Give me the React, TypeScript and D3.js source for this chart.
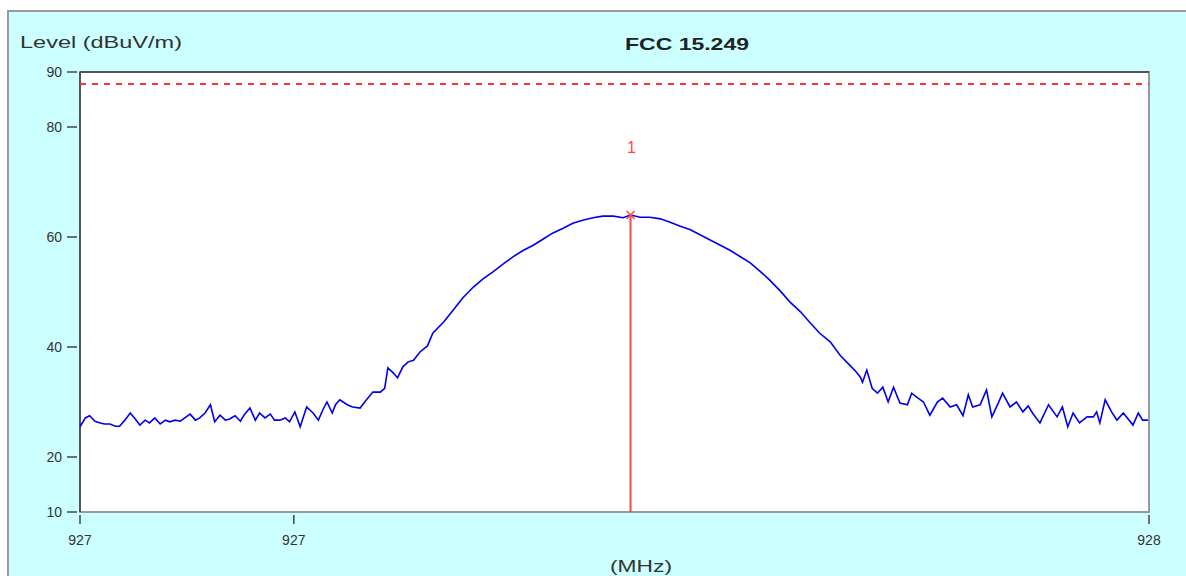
import React from "react";
import * as d3 from "d3";

// trace readings: frequency (MHz) and level (dBuV/m)
const freqs = [
  927.0, 927.005, 927.009, 927.014, 927.019, 927.023, 927.028, 927.033, 927.037, 927.042,
  927.047, 927.051, 927.056, 927.061, 927.065, 927.07, 927.075, 927.08, 927.084, 927.089,
  927.094, 927.098, 927.103, 927.108, 927.112, 927.117, 927.122, 927.126, 927.131, 927.136,
  927.14, 927.145, 927.15, 927.154, 927.159, 927.164, 927.168, 927.173, 927.178, 927.182,
  927.187, 927.192, 927.196, 927.201, 927.206, 927.212, 927.218, 927.223, 927.227, 927.231,
  927.236, 927.239, 927.243, 927.25, 927.255, 927.262, 927.268, 927.274, 927.281, 927.285,
  927.288, 927.293, 927.297, 927.302, 927.307, 927.312, 927.318, 927.325, 927.33, 927.34,
  927.349, 927.358, 927.368, 927.377, 927.386, 927.396, 927.405, 927.414, 927.424, 927.433,
  927.442, 927.452, 927.461, 927.471, 927.48, 927.489, 927.499, 927.508, 927.515, 927.524,
  927.533, 927.543, 927.552, 927.561, 927.571, 927.58, 927.589, 927.599, 927.608, 927.617,
  927.627, 927.636, 927.645, 927.655, 927.664, 927.674, 927.683, 927.692, 927.702, 927.711,
  927.72, 927.726, 927.73, 927.732, 927.736, 927.741, 927.746, 927.751, 927.756, 927.761,
  927.767, 927.774, 927.778, 927.784, 927.789, 927.795, 927.802, 927.807, 927.814, 927.82,
  927.826, 927.831, 927.835, 927.842, 927.848, 927.853, 927.859, 927.863, 927.87, 927.876,
  927.882, 927.887, 927.891, 927.898, 927.906, 927.914, 927.919, 927.924, 927.929, 927.935,
  927.942, 927.948, 927.951, 927.954, 927.959, 927.965, 927.97, 927.976, 927.985, 927.99,
  927.994, 927.999,
];
const levels = [
  25.5, 27.1, 27.5, 26.5, 26.2, 26.0, 26.0, 25.6, 25.6, 26.7,
  28.0, 27.1, 25.8, 26.7, 26.2, 27.1, 26.0, 26.7, 26.4, 26.7,
  26.5, 27.1, 27.8, 26.7, 27.1, 28.0, 29.5, 26.4, 27.6, 26.7,
  26.9, 27.5, 26.5, 27.8, 28.9, 26.7, 28.0, 27.1, 27.8, 26.7,
  26.7, 27.1, 26.4, 28.2, 25.5, 29.1, 28.0, 26.7, 28.5, 30.0,
  28.0, 29.5, 30.4, 29.5, 29.1, 28.9, 30.4, 31.8, 31.8, 32.5,
  36.2, 35.3, 34.4, 36.4, 37.3, 37.6, 39.1, 40.2, 42.5, 44.5,
  46.7, 48.9, 50.9, 52.4, 53.6, 55.1, 56.4, 57.5, 58.5, 59.6,
  60.7, 61.6, 62.5, 63.1, 63.5, 63.8, 63.8, 63.5, 64.0, 63.6,
  63.6, 63.3, 62.7, 62.0, 61.3, 60.4, 59.5, 58.5, 57.6, 56.5,
  55.3, 53.8, 52.2, 50.2, 48.2, 46.4, 44.4, 42.5, 40.9, 38.5,
  36.7, 35.5, 34.5, 33.6, 35.8, 32.5, 31.6, 32.7, 30.0, 32.7,
  29.8, 29.5, 31.6, 30.7, 30.0, 27.6, 30.0, 30.7, 29.1, 29.5,
  27.5, 31.3, 29.1, 29.5, 32.2, 27.3, 29.8, 31.6, 29.1, 30.0,
  28.2, 29.3, 28.0, 26.2, 29.5, 27.3, 29.1, 25.5, 28.0, 26.2,
  27.3, 27.3, 28.2, 26.2, 30.4, 28.2, 26.7, 28.0, 25.8, 28.0,
  26.7, 26.7,
];

const yTicks = [10, 20, 40, 60, 80, 90];
const xTicks = [927.0, 927.2, 928.0];
const xTickLabels = ["927", "927", "928"];
const limitLevel = 87.8;
const marker = { freq: 927.515, level: 64.0, label: "1" };

const W = 1186;
const H = 576;
const plot = { left: 80, top: 72, right: 1149, bottom: 512 };
const font = "'Liberation Sans', Arial, sans-serif";

export default function App() {
  const x = d3.scaleLinear().domain([927, 928]).range([plot.left, plot.right]);
  const y = d3.scaleLinear().domain([10, 90]).range([plot.bottom, plot.top]);

  const line = d3
    .line<number>()
    .x((_, i) => x(freqs[i]))
    .y((d) => y(d));

  const mx = x(marker.freq);
  const my = y(marker.level);

  return (
    <svg
      width={W}
      height={H}
      style={{ position: "absolute", left: 0, top: 0, background: "#fff" }}
      fontFamily={font}
    >
      <rect x={8} y={11} width={W} height={H} fill="#ccffff" stroke="#999" strokeWidth={2} />

      <text x={20} y={48} fontSize={17} fill="#333" textLength={162} lengthAdjust="spacingAndGlyphs">
        Level (dBuV/m)
      </text>
      <text x={625} y={50} fontSize={17} fontWeight="bold" fill="#222" textLength={124} lengthAdjust="spacingAndGlyphs">
        FCC 15.249
      </text>

      <rect
        x={plot.left}
        y={plot.top}
        width={plot.right - plot.left}
        height={plot.bottom - plot.top}
        fill="#fff"
        stroke="#999"
        strokeWidth={2}
      />
      <line x1={plot.left} x2={plot.right} y1={plot.top} y2={plot.top} stroke="#555" strokeWidth={2} />
      <line x1={plot.left} x2={plot.left} y1={plot.top} y2={plot.bottom} stroke="#555" strokeWidth={2} />

      {yTicks.map((t) => (
        <g key={t}>
          <line x1={plot.left - 13} x2={plot.left - 3} y1={y(t)} y2={y(t)} stroke="#444" strokeWidth={1.5} />
          <text x={plot.left - 18} y={y(t) + 5} fontSize={14} fill="#333" textAnchor="end">
            {t}
          </text>
        </g>
      ))}

      {xTicks.map((t, i) => (
        <g key={i}>
          <line x1={x(t)} x2={x(t)} y1={plot.bottom + 3} y2={plot.bottom + 12} stroke="#444" strokeWidth={1.5} />
          <text x={x(t)} y={plot.bottom + 33} fontSize={14} fill="#333" textAnchor="middle">
            {xTickLabels[i]}
          </text>
        </g>
      ))}
      <text x={610} y={572} fontSize={16} fill="#333" textLength={62} lengthAdjust="spacingAndGlyphs">
        (MHz)
      </text>

      <line
        x1={plot.left}
        x2={plot.right}
        y1={y(limitLevel)}
        y2={y(limitLevel)}
        stroke="#ff3333"
        strokeWidth={2}
        strokeDasharray="6,6"
      />

      <path d={line(levels) ?? ""} fill="none" stroke="#0000ee" strokeWidth={1.6} />

      <line x1={mx} x2={mx} y1={my} y2={plot.bottom} stroke="#ff4444" strokeWidth={2} />
      <path
        d={`M${mx - 4},${my - 4}L${mx + 4},${my + 4}M${mx - 4},${my + 4}L${mx + 4},${my - 4}`}
        stroke="#ff4444"
        strokeWidth={1.5}
      />
      <text x={mx + 1} y={153} fontSize={16} fill="#ff4444" textAnchor="middle">
        {marker.label}
      </text>
    </svg>
  );
}
